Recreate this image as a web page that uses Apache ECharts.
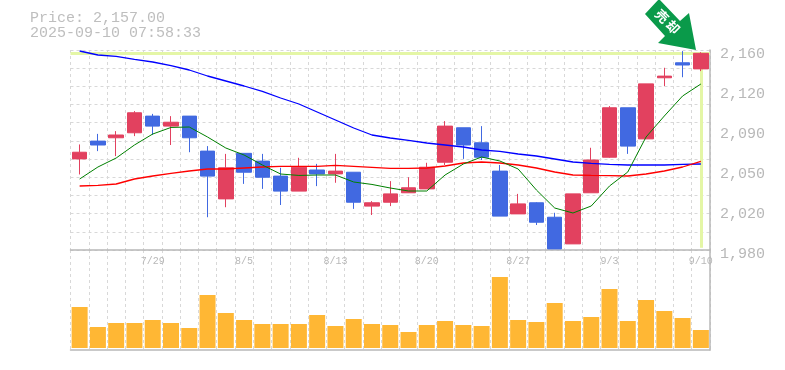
<!DOCTYPE html>
<html>
<head>
<meta charset="utf-8">
<style>html,body{margin:0;padding:0;background:#fff}#c{width:785px;height:370px}</style>
<script src="https://cdn.jsdelivr.net/npm/echarts@6/dist/echarts.min.js"></script>
</head>
<body>
<div id="c"></div>
<script>
const dates = ['7/23','7/24','7/25','7/28','7/29','7/30','7/31','8/1','8/4','8/5','8/6','8/7','8/8','8/12','8/13','8/14','8/15','8/18','8/19','8/20','8/21','8/22','8/25','8/26','8/27','8/28','8/29','9/1','9/2','9/3','9/4','9/5','9/8','9/9','9/10'];
const shownDates = ['7/29','8/5','8/13','8/20','8/27','9/3','9/10'];
const yTickLabels = ['1,980','2,020','2,050','2,090','2,120','2,160'];
const opens  = [2062,2078,2081,2085.5,2100.5,2091.5,2100.5,2069,2026,2067,2060,2046.5,2033,2052,2048.5,2050,2019.5,2023,2031.5,2035,2059,2090,2076.5,2051,2012.5,2022.5,2009.5,1985.5,2031.5,2063.5,2108,2080,2135,2148.5,2143];
const closes = [2068,2074.5,2083.5,2103.5,2091.5,2095,2081,2046.5,2054,2050,2045.5,2033,2054.5,2048.5,2051,2023,2022.5,2030.5,2036,2054.5,2091.5,2074.5,2063.5,2010.5,2021.5,2005,1981,2030.5,2061,2108,2073.5,2129.5,2136.5,2146.5,2157];
const lows   = [2048,2069,2064.5,2082.5,2083.5,2074.5,2068,2009.5,2018.5,2039.5,2035,2020.5,2033,2037.5,2040.5,2017,2011.5,2019.5,2031.5,2035,2056.5,2062,2061,2010.5,2012.5,2002.5,1981,1985.5,2031.5,2063,2066.5,2080,2127.5,2135.5,2141];
const highs  = [2075,2084.5,2087,2105,2102.5,2100.5,2100.5,2073.5,2066.5,2067,2066.5,2054,2063,2057.5,2066.5,2050,2024,2042,2045.5,2058.5,2096,2090,2091.5,2056.5,2030.5,2023,2013.5,2030.5,2072,2109.5,2108,2129.5,2144,2159,2158];
const maShort = [2043.9,2054.7,2062.8,2074.5,2084.4,2090.3,2090.7,2081.7,2071.8,2065.5,2056.5,2048.4,2047.1,2047.5,2047.5,2041.2,2039,2035.8,2033.1,2033.1,2047.5,2057.4,2063.7,2060.1,2052.9,2034,2017.8,2013.3,2019.6,2037.6,2050.2,2081.7,2100.6,2118.6,2129.4];
const maMid = [2037.6,2038.1,2039.4,2043.9,2046.6,2048.9,2051.1,2052.9,2052.9,2053.8,2054.7,2055.2,2055.2,2055.2,2056.1,2055.2,2054.3,2053.4,2053.4,2053.8,2055.6,2058.3,2059.2,2058.3,2056.5,2053.8,2050.2,2047.5,2047.1,2046.9,2046.6,2048.4,2051.1,2054.7,2059.7];
const maLong = [2159.1,2155.5,2154.2,2151.5,2149.2,2146,2142,2136.6,2132.1,2127.6,2122.7,2116.8,2111.4,2104.2,2097,2089.8,2083.5,2080.8,2078.6,2076.3,2074.5,2072.7,2070,2068.7,2066.4,2064.6,2061.9,2059.2,2057.9,2057,2056.5,2056.5,2056.5,2057,2057.4];
const volumes = [41,21,25,25,28,25,20,53,35,28,24,24,24,33,22,29,24,23,16,23,27,23,22,71,28,26,45,27,31,59,27,48,37,30,18];
const lastPrice = 2157;
const priceText = 'Price: 2,157.00';
const timeText = '2025-09-10 07:58:33';
const signalChars = ['売','却'];

const MONO = '"Liberation Mono", monospace';
const GRAY = '#b8b8b8';
const DASH = {color:'#d8d8d8', width:1, type:[3,3]};
const chart = echarts.init(document.getElementById('c'), null, {renderer:'canvas'});
chart.setOption({
  animation:false,
  backgroundColor:'#fff',
  grid:[
    {left:70.5, top:50, width:639.5, height:200},
    {left:70.5, top:250, width:639.5, height:100}
  ],
  xAxis:[
    {type:'category', gridIndex:0, data:dates, boundaryGap:true,
     axisLine:{show:true, onZero:false, lineStyle:{color:GRAY, width:1.5}},
     axisTick:{show:false},
     splitLine:{show:true, interval:0, lineStyle:DASH},
     axisLabel:{show:true, interval:(i,v)=>shownDates.includes(v), margin:6, color:GRAY,
       fontFamily:MONO, fontSize:10, hideOverlap:false}},
    {type:'category', gridIndex:1, data:dates, boundaryGap:true,
     axisLine:{show:true, onZero:false, lineStyle:{color:GRAY, width:1.5}},
     axisTick:{show:false}, axisLabel:{show:false},
     splitLine:{show:true, interval:0, lineStyle:DASH}}
  ],
  yAxis:[
    {type:'value', gridIndex:0, position:'right', min:1980, max:2160, interval:36, scale:true,
     axisLine:{show:true, lineStyle:{color:GRAY, width:1.5}}, axisTick:{show:false},
     splitLine:{show:false},
     axisLabel:{margin:10, color:GRAY, fontFamily:MONO, fontSize:15, verticalAlign:'top', lineHeight:8,
       formatter:(v,i)=>yTickLabels[i]}},
    {type:'value', gridIndex:0, position:'left', min:1980, max:2160, interval:180/11, scale:true,
     axisLine:{show:false}, axisTick:{show:false}, axisLabel:{show:false},
     splitLine:{show:true, lineStyle:DASH}},
    {type:'value', gridIndex:1, position:'right', min:-2, max:98,
     axisLine:{show:true, lineStyle:{color:GRAY, width:1.5}}, axisTick:{show:false},
     axisLabel:{show:false}, splitLine:{show:false}}
  ],
  series:[
    {type:'bar', xAxisIndex:1, yAxisIndex:2, data:volumes, barWidth:16,
     itemStyle:{color:'#FFB734'}, silent:true},
    {type:'candlestick', xAxisIndex:0, yAxisIndex:0, barWidth:15, z:3,
     data:dates.map((d,i)=>[opens[i],closes[i],lows[i],highs[i]]),
     itemStyle:{color:'#E2415F', color0:'#4169E1', borderColor:'#E2415F', borderColor0:'#4169E1', borderWidth:1},
     markLine:{silent:true, symbol:'none', z:1, animation:false,
       label:{show:false},
       lineStyle:{color:'#E4F6A6', width:3, type:'solid'},
       data:[
         {yAxis:lastPrice},
         [{coord:['9/10',lastPrice]},{coord:['9/10',1982]}]
       ]}},
    {type:'line', xAxisIndex:0, yAxisIndex:0, data:maLong, symbol:'none', z:4,
     lineStyle:{color:'#0000FF', width:1.3}},
    {type:'line', xAxisIndex:0, yAxisIndex:0, data:maMid, symbol:'none', z:4,
     lineStyle:{color:'#FF0000', width:1.3}},
    {type:'line', xAxisIndex:0, yAxisIndex:0, data:maShort, symbol:'none', z:4,
     lineStyle:{color:'#008000', width:1}}
  ],
  graphic:[
    {type:'text', left:30, top:11, style:{text:priceText, font:'15px '+MONO, fill:'#bebebe'}},
    {type:'text', left:30, top:26, style:{text:timeText, font:'15px '+MONO, fill:'#bebebe'}},
    {type:'polygon', z:50, shape:{points:[[645,14],[665,36],[658,43],[696,50],[689,13],[680,21],[659,-1]]},
     style:{fill:'#0A9A4A'}},
    {type:'text', z:51, x:662, y:16, rotation:-Math.PI/4,
     style:{text:signalChars[0], font:'bold 13px "Noto Sans CJK JP"', fill:'#fff', align:'center', verticalAlign:'middle'}},
    {type:'text', z:51, x:673, y:27, rotation:-Math.PI/4,
     style:{text:signalChars[1], font:'bold 13px "Noto Sans CJK JP"', fill:'#fff', align:'center', verticalAlign:'middle'}}
  ]
});
</script>
</body>
</html>
